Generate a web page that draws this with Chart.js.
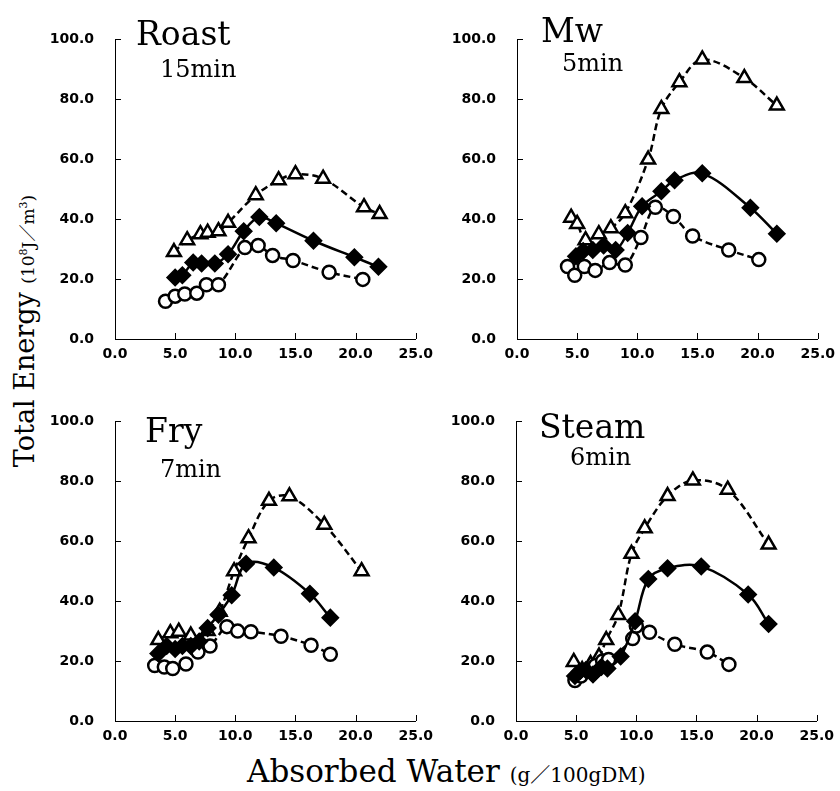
<!DOCTYPE html>
<html>
<head>
<meta charset="utf-8">
<script src="https://cdn.jsdelivr.net/npm/chart.js@4/dist/chart.umd.min.js"></script>
<style>
  body { margin:0; background:#fff; }
  #wrap { position:relative; width:840px; height:791px; overflow:hidden; }
  .panel { position:absolute; width:390px; height:360px; }
  .lbl { position:absolute; font-family:"DejaVu Serif", serif; color:#000; white-space:nowrap; line-height:1; }
  .big { font-size:33px; }
  .sub { font-size:24px; }
  .small { font-family:"DejaVu Serif","Noto Sans CJK JP", serif; }
</style>
</head>
<body>
<div id="wrap">
  <div class="panel" style="left:50px; top:10px"><canvas id="c0" width="390" height="360"></canvas></div>
  <div class="panel" style="left:452px; top:10px"><canvas id="c1" width="390" height="360"></canvas></div>
  <div class="panel" style="left:50px; top:392px"><canvas id="c2" width="390" height="360"></canvas></div>
  <div class="panel" style="left:451px; top:392px"><canvas id="c3" width="390" height="360"></canvas></div>

  <div class="lbl big" style="left:136px; top:17px">Roast</div>
  <div class="lbl sub" style="left:160px; top:57px">15min</div>
  <div class="lbl big" style="left:541px; top:14px">Mw</div>
  <div class="lbl sub" style="left:562px; top:51px">5min</div>
  <div class="lbl big" style="left:145px; top:414px">Fry</div>
  <div class="lbl sub" style="left:160px; top:457px">7min</div>
  <div class="lbl big" style="left:539px; top:410px">Steam</div>
  <div class="lbl sub" style="left:570px; top:445px">6min</div>

  <div class="lbl" style="left:247px; top:756px; font-size:31px">Absorbed Water <span class="small" style="font-size:20px">(g／100gDM)</span></div>
  <div class="lbl" style="left:24px; top:331px; font-size:27px; transform:translate(-50%,-50%) rotate(-90deg)">Total Energy <span class="small" style="font-size:17px">(10<sup style="font-size:11px">8</sup>J／m<sup style="font-size:11px">3</sup>)</span></div>
</div>

<script>
// x = absorbed water (g/100gDM), y = total energy (10^8 J/m3)
const panelNames = ['Roast', 'Mw', 'Fry', 'Steam'];
const xTicks = [0, 5, 10, 15, 20, 25];
const yTicks = [0, 20, 40, 60, 80, 100];

// Roast 15min
const roastTriX = [4.9, 6.0, 7.1, 7.7, 8.6, 9.4, 11.7, 13.6, 15.0, 17.3, 20.7, 22.0];
const roastTriY = [29, 33, 35, 35.5, 36, 38.8, 48, 53, 55, 53.5, 44, 41.7];
const roastDiaX = [5.0, 5.6, 6.5, 7.2, 8.3, 9.4, 10.7, 12.0, 13.4, 16.5, 19.9, 21.9];
const roastDiaY = [20.5, 21.3, 25.5, 25.2, 25.2, 28.3, 36, 40.7, 38.6, 32.8, 27.3, 24.1];
const roastCirX = [4.2, 5.0, 5.8, 6.8, 7.6, 8.6, 10.8, 11.9, 13.1, 14.8, 17.8, 20.6];
const roastCirY = [12.6, 14.3, 15, 15.3, 18.1, 18.1, 30.5, 31.2, 27.9, 26.2, 22.3, 19.9];

// Mw 5min
const mwTriX = [4.5, 5.0, 5.7, 6.8, 7.8, 9.0, 10.9, 12.0, 13.5, 15.4, 18.9, 21.6];
const mwTriY = [40.5, 38.4, 33, 35, 37, 42, 59.9, 76.8, 85.7, 93.3, 87.1, 77.9];
const mwDiaX = [4.9, 5.5, 6.3, 7.2, 8.2, 9.2, 10.4, 12.0, 13.1, 15.4, 19.4, 21.6];
const mwDiaY = [27.6, 29.4, 29.7, 31.2, 29.7, 35.4, 44.3, 49.3, 53, 55.3, 43.8, 35.1];
const mwCirX = [4.2, 4.8, 5.6, 6.5, 7.7, 9.0, 10.3, 11.5, 13.0, 14.6, 17.6, 20.1];
const mwCirY = [24.2, 21.3, 24.2, 22.9, 25.5, 24.7, 33.9, 44, 40.9, 34.4, 29.7, 26.5];

// Fry 7min
const fryTriX = [3.6, 4.6, 5.3, 6.3, 7.7, 8.7, 9.9, 11.1, 12.8, 14.5, 17.4, 20.5];
const fryTriY = [27, 29.3, 29.8, 28.5, 30, 36.5, 50, 61, 73.5, 75, 65.5, 50];
const fryDiaX = [3.6, 4.3, 5.0, 5.6, 6.3, 7.0, 7.7, 8.6, 9.7, 10.9, 13.2, 16.2, 17.9];
const fryDiaY = [22.5, 25, 24, 25, 25, 26.5, 31, 35.5, 42, 52.5, 51.2, 42.5, 34.5];
const fryCirX = [3.3, 4.1, 4.8, 5.9, 6.9, 7.9, 9.3, 10.2, 11.3, 13.8, 16.3, 17.9];
const fryCirY = [18.5, 18, 17.5, 19, 23, 25, 31.5, 30, 29.8, 28.3, 25.3, 22.3];

// Steam 6min
const steamTriX = [4.8, 5.5, 6.2, 6.9, 7.5, 8.5, 9.6, 10.7, 12.6, 14.7, 17.6, 21.0];
const steamTriY = [19.7, 17, 19, 21.5, 27, 35.4, 55.8, 64.3, 75.1, 80.3, 77.2, 58.9];
const steamDiaX = [4.9, 5.3, 5.8, 6.4, 7.1, 7.6, 8.7, 9.9, 11.0, 12.6, 15.4, 19.3, 21.0];
const steamDiaY = [15, 16.5, 17, 15.5, 18, 17.5, 21.5, 33.3, 47.4, 51, 51.6, 42.2, 32.4];
const steamCirX = [4.9, 5.4, 6.0, 6.6, 7.2, 7.7, 9.7, 10.0, 11.1, 13.2, 15.9, 17.7];
const steamCirY = [13.5, 15, 17, 18.5, 20, 20.5, 27.5, 31.7, 29.6, 25.6, 23, 18.9];

const panels = [
  [roastTriX, roastTriY, roastDiaX, roastDiaY, roastCirX, roastCirY],
  [mwTriX, mwTriY, mwDiaX, mwDiaY, mwCirX, mwCirY],
  [fryTriX, fryTriY, fryDiaX, fryDiaY, fryCirX, fryCirY],
  [steamTriX, steamTriY, steamDiaX, steamDiaY, steamCirX, steamCirY],
];

function pts(xs, ys){ return xs.map((x,i)=> ({ x, y: ys[i] })); }

const tickFont = { family: 'DejaVu Sans', size: 14, weight: 'bold' };

// short tick marks pointing into the plot
const innerTicks = {
  id: 'innerTicks',
  afterDraw(chart){
    const { ctx, chartArea: a, scales } = chart;
    ctx.save();
    ctx.strokeStyle = '#000'; ctx.lineWidth = 1;
    ctx.beginPath();
    for (const v of xTicks) { const px = Math.round(scales.x.getPixelForValue(v)) + 0.5; ctx.moveTo(px, a.bottom); ctx.lineTo(px, a.bottom - 6); }
    for (const v of yTicks) { const py = Math.round(scales.y.getPixelForValue(v)) + 0.5; ctx.moveTo(a.left, py); ctx.lineTo(a.left + 6, py); }
    ctx.stroke();
    ctx.restore();
  }
};

function makeChart(id, d){
  const common = { showLine: true, borderColor: '#000', borderWidth: 2.5, tension: 0.35, pointBorderWidth: 2.5, pointBorderColor: '#000' };
  new Chart(document.getElementById(id), {
    type: 'scatter',
    data: { datasets: [
      { ...common, data: pts(d[2], d[3]), pointStyle: 'rectRot', pointRadius: 7.5, pointBackgroundColor: '#000' },
      { ...common, data: pts(d[4], d[5]), borderDash: [7, 4], pointStyle: 'circle', pointRadius: 6.5, pointBackgroundColor: '#fff' },
      { ...common, data: pts(d[0], d[1]), borderDash: [7, 4], pointStyle: 'triangle', pointRadius: 8, pointBackgroundColor: '#fff' },
    ]},
    options: {
      responsive: false, animation: false,
      layout: { padding: { top: 11, right: 19, left: 0, bottom: 0 } },
      plugins: { legend: { display: false }, tooltip: { enabled: false } },
      scales: {
        x: {
          type: 'linear', min: 0, max: 25,
          afterBuildTicks: s => { s.ticks = xTicks.map(v => ({ value: v })); },
          afterFit: s => { s.height = 31; },
          ticks: { callback: v => v.toFixed(1), color: '#000', font: tickFont, padding: 7, maxRotation: 0 },
          grid: { drawOnChartArea: false, drawTicks: false },
          border: { color: '#000', width: 1 }
        },
        y: {
          min: 0, max: 100,
          afterBuildTicks: s => { s.ticks = yTicks.map(v => ({ value: v })); },
          afterFit: s => { s.width = 65; },
          ticks: { callback: v => v.toFixed(1), color: '#000', font: tickFont, padding: 21 },
          grid: { drawOnChartArea: false, drawTicks: false },
          border: { color: '#000', width: 1 }
        }
      }
    },
    plugins: [innerTicks]
  });
}

panels.forEach((d, i) => makeChart('c' + i, d));
</script>
</body>
</html>
